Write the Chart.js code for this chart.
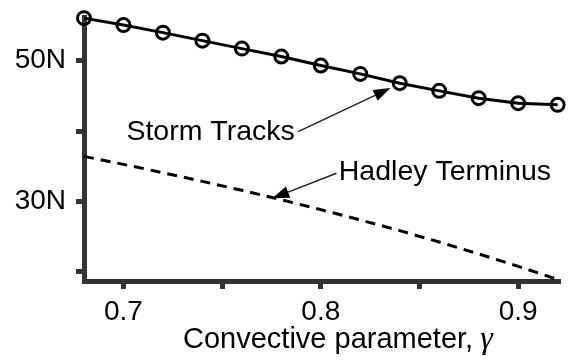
<!DOCTYPE html>
<html lang="en">
<head>
    <meta charset="UTF-8">
    <title>Storm Tracks and Hadley Terminus</title>
    <script src="https://cdn.jsdelivr.net/npm/chart.js@4"></script>
    <style>
        body {
            margin: 0;
            background-color: #fff;
        }

        .chart-container {
            width: 568px;
            height: 360px;
        }
    </style>
</head>
<body>
    <div class="chart-container">
        <canvas id="myChart" width="568" height="360"></canvas>
    </div>
    <script>
        // convective parameter (gamma) values
        const gammaValues = [0.68, 0.70, 0.72, 0.74, 0.76, 0.78, 0.80, 0.82, 0.84, 0.86, 0.88, 0.90, 0.92];
        // latitude of the storm tracks (deg N)
        const stormTracks = [56.04, 55.05, 53.98, 52.84, 51.71, 50.58, 49.30, 48.12, 46.80, 45.71, 44.67, 43.96, 43.72];
        // latitude of the Hadley terminus (deg N)
        const hadleyTerminus = [36.40, 35.27, 34.08, 32.85, 31.58, 30.24, 28.84, 27.38, 25.85, 24.24, 22.55, 20.78, 18.93];

        const xTicks = [0.70, 0.75, 0.80, 0.85, 0.90];
        const xTickLabels = ['0.7', '', '0.8', '', '0.9'];
        const yTicks = [20, 30, 40, 50];
        const yTickLabels = ['', '30N', '', '50N'];

        const axisColor = '#333';
        const fontFamily = "'Liberation Sans', Arial, sans-serif";

        function toPoints(xs, ys) {
            return xs.map((x, i) => ({ x: x, y: ys[i] }));
        }

        function drawArrow(ctx, x1, y1, x2, y2) {
            const angle = Math.atan2(y2 - y1, x2 - x1);
            const headLen = 17;
            const headHalf = 6;
            const bx = x2 - headLen * Math.cos(angle);
            const by = y2 - headLen * Math.sin(angle);
            ctx.beginPath();
            ctx.moveTo(x1, y1);
            ctx.lineTo(bx, by);
            ctx.stroke();
            ctx.beginPath();
            ctx.moveTo(x2, y2);
            ctx.lineTo(bx + headHalf * Math.sin(angle), by - headHalf * Math.cos(angle));
            ctx.lineTo(bx - headHalf * Math.sin(angle), by + headHalf * Math.cos(angle));
            ctx.closePath();
            ctx.fill();
        }

        // labels, arrows and the axis title (gamma in italic serif)
        const annotations = {
            id: 'annotations',
            afterDraw(chart) {
                const ctx = chart.ctx;
                const xs = chart.scales.x;
                const ys = chart.scales.y;
                const px = v => xs.getPixelForValue(v);
                const py = v => ys.getPixelForValue(v);

                ctx.save();
                ctx.fillStyle = '#000';
                ctx.strokeStyle = '#222';
                ctx.lineWidth = 1.5;
                ctx.font = '28.5px ' + fontFamily;
                ctx.textBaseline = 'alphabetic';
                ctx.textAlign = 'left';

                ctx.fillText('Storm Tracks', px(0.7015), py(38.74));
                drawArrow(ctx, px(0.7885), py(39.92), px(0.8353), py(46.1));

                ctx.fillText('Hadley Terminus', px(0.8091), py(33.06));
                drawArrow(ctx, px(0.8079), py(34.0), px(0.7754), py(30.45));

                const area = chart.chartArea;
                const titleX = (area.left + area.right) / 2 - 139;
                const titleY = 348;
                const mainText = 'Convective parameter, ';
                ctx.font = '29px ' + fontFamily;
                ctx.fillText(mainText, titleX, titleY);
                const w = ctx.measureText(mainText).width;
                ctx.font = 'italic 32px "Liberation Serif", "Times New Roman", serif';
                ctx.fillText('\u03b3', titleX + w - 1, titleY);
                ctx.restore();
            }
        };

        const ctx = document.getElementById('myChart').getContext('2d');

        const chart = new Chart(ctx, {
            type: 'line',
            data: {
                datasets: [{
                    label: 'Hadley Terminus',
                    data: toPoints(gammaValues, hadleyTerminus),
                    borderColor: '#000',
                    borderWidth: 3,
                    borderDash: [10, 7],
                    pointRadius: 0,
                    tension: 0,
                    clip: false
                }, {
                    label: 'Storm Tracks',
                    data: toPoints(gammaValues, stormTracks),
                    borderColor: '#000',
                    borderWidth: 3,
                    pointRadius: 6.5,
                    pointBorderWidth: 3,
                    pointBorderColor: '#000',
                    pointBackgroundColor: 'rgba(0,0,0,0)',
                    tension: 0,
                    clip: false
                }]
            },
            options: {
                responsive: false,
                animation: false,
                layout: {
                    autoPadding: false,
                    padding: { top: 17, right: 8, left: 0, bottom: 0 }
                },
                plugins: {
                    legend: { display: false },
                    tooltip: { enabled: false }
                },
                scales: {
                    x: {
                        type: 'linear',
                        min: 0.68,
                        max: 0.9212,
                        afterFit: scale => {
                            scale.height = 79;
                            scale.paddingLeft = 0;
                            scale.paddingRight = 0;
                        },
                        afterBuildTicks: scale => {
                            scale.ticks = xTicks.map(v => ({ value: v }));
                        },
                        ticks: {
                            autoSkip: false,
                            maxRotation: 0,
                            padding: 6,
                            color: '#000',
                            font: { size: 28, family: fontFamily },
                            callback: (value, index) => xTickLabels[index]
                        },
                        grid: {
                            drawOnChartArea: false,
                            drawTicks: true,
                            tickLength: 8,
                            tickWidth: 5,
                            tickColor: axisColor
                        },
                        border: { display: true, color: axisColor, width: 5 }
                    },
                    y: {
                        type: 'linear',
                        min: 18.7,
                        max: 56.2,
                        afterFit: scale => {
                            scale.width = 84;
                            scale.paddingTop = 0;
                            scale.paddingBottom = 0;
                        },
                        afterBuildTicks: scale => {
                            scale.ticks = yTicks.map(v => ({ value: v }));
                        },
                        ticks: {
                            autoSkip: false,
                            padding: 10,
                            color: '#000',
                            font: { size: 28, family: fontFamily },
                            callback: (value, index) => yTickLabels[index]
                        },
                        grid: {
                            drawOnChartArea: false,
                            drawTicks: true,
                            tickLength: 8,
                            tickWidth: 5,
                            tickColor: axisColor
                        },
                        border: { display: true, color: axisColor, width: 5 }
                    }
                }
            },
            plugins: [annotations]
        });
    </script>
</body>
</html>
